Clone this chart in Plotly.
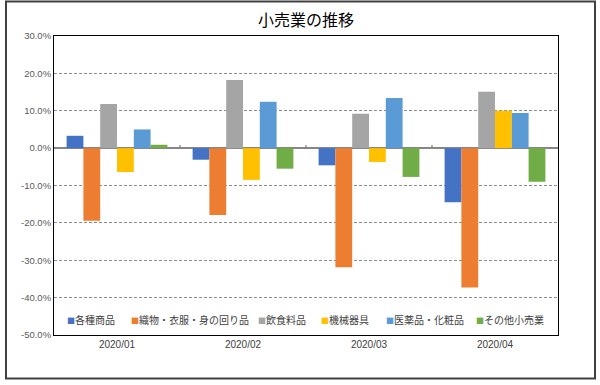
import plotly.graph_objects as go

months = ["2020/01", "2020/02", "2020/03", "2020/04"]
series_names = ["各種商品", "織物・衣服・身の回り品", "飲食料品", "機械器具", "医薬品・化粧品", "その他小売業"]
kakushu = [3.3, -3.1, -4.6, -14.5]
orimono = [-19.4, -17.9, -31.9, -37.3]
inshoku = [11.8, 18.2, 9.2, 15.1]
kikai = [-6.4, -8.5, -3.7, 10.0]
iyaku = [5.0, 12.4, 13.4, 9.4]
sonota = [0.9, -5.5, -7.7, -9.0]
y_ticks = [30, 20, 10, 0, -10, -20, -30, -40, -50]

series_values = [kakushu, orimono, inshoku, kikai, iyaku, sonota]
colors = ["#4472C4", "#ED7D31", "#A5A5A5", "#FFC000", "#5B9BD5", "#70AD47"]

W, H = 600, 385
L, R, T, B = 54, 42, 36, 50
pw, ph = W - L - R, H - T - B

def px_x(px):
    return (px - L) / pw

def px_y(py):
    return (H - B - py) / ph

fig = go.Figure()
for name, vals, c in zip(series_names, series_values, colors):
    fig.add_trace(go.Bar(x=months, y=vals, name=name, marker_color=c,
                         marker_line_width=0, showlegend=False))

jp = "Noto Sans CJK JP"
lat = "Liberation Sans, Arial"

shapes = []
# outer chart border
shapes.append(dict(type="rect", xref="paper", yref="paper",
                   x0=px_x(6), x1=px_x(595), y0=px_y(378.5), y1=px_y(1.5),
                   line=dict(color="#404040", width=2), layer="below"))
# small ticks on the zero line between categories
for i in range(len(months) - 1):
    shapes.append(dict(type="line", xref="x", yref="y", x0=i + 0.5, x1=i + 0.5,
                       y0=0, y1=0.8, line=dict(color="#868686", width=1.5)))

annotations = []
leg_x = [64.5, 128.5, 255.5, 318.5, 383.5, 473.5]
for name, c, lx in zip(series_names, colors, leg_x):
    annotations.append(dict(
        xref="paper", yref="paper", x=px_x(lx), y=px_y(319.5),
        xanchor="left", yanchor="middle", showarrow=False,
        text=f'<span style="color:{c};font-size:8px">■</span>{name}',
        font=dict(family=jp, size=10, color="#404040")))

fig.update_layout(
    width=W, height=H,
    margin=dict(l=L, r=R, t=T, b=B),
    paper_bgcolor="white", plot_bgcolor="white",
    barmode="group", bargap=0.2, bargroupgap=0,
    title=dict(text="小売業の推移", x=0.5, xref="paper", xanchor="center",
               y=1 - 20 / H, yanchor="middle",
               font=dict(family=jp, size=16, color="#000000")),
    xaxis=dict(showline=True, mirror=True, linecolor="#000000", linewidth=1,
               ticks="", tickfont=dict(family=lat, size=10, color="#404040")),
    yaxis=dict(range=[-50, 30], tickvals=y_ticks,
               ticktext=[f"{v:.1f}%" for v in y_ticks],
               showline=True, mirror=True, linecolor="#000000", linewidth=1,
               showgrid=True, gridcolor="#8c8c8c", gridwidth=1, griddash="3px,2px",
               zeroline=True, zerolinecolor="#868686", zerolinewidth=1.5,
               ticks="", tickfont=dict(family=lat, size=9.5, color="#595959")),
    shapes=shapes, annotations=annotations,
)

fig.write_html("out.html", config={"displayModeBar": False},
               post_script="document.body.style.margin='0';document.body.style.overflow='hidden';")
